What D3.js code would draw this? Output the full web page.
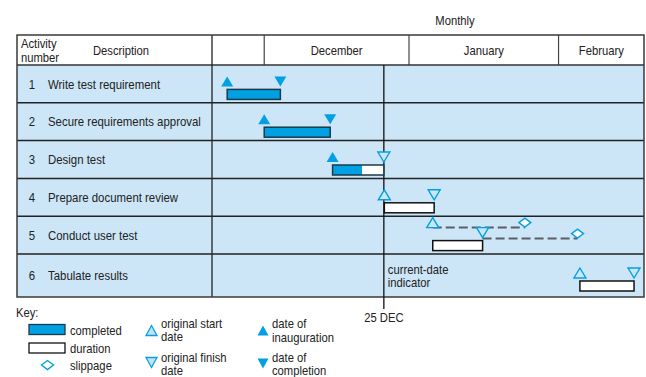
<!DOCTYPE html>
<html>
<head>
<meta charset="utf-8">
<script src="https://cdn.jsdelivr.net/npm/d3@7"></script>
<title>Gantt chart</title>
<style>
body {
	margin: 0;
	background: white;
}
svg text {
	font-family: "Liberation Sans", Arial, sans-serif;
	font-size: 13.4px;
	fill: #222;
}
</style>
</head>
<body>
<div id="chart"></div>
<script>

// -- data (days counted from 1 December)

const months = ["", "December", "January", "February"];
const monthEdges = [-11, 0, 30.5, 62, 80];

const taskIds = [1, 2, 3, 4, 5, 6];
const taskNames = [
	"Write test requirement",
	"Secure requirements approval",
	"Design test",
	"Prepare document review",
	"Conduct user test",
	"Tabulate results",
];
const plannedStart  = [-7.8, 0.0, 14.4, 25.3, 35.5, 66.5];
const plannedFinish = [3.4, 13.9, 25.2, 35.8, 46.0, 77.9];
const inaugurated   = [true, true, true, false, false, false];
const completed     = [true, true, false, false, false, false];
const completedTo   = [3.4, 13.9, 20.6, null, null, null];
const slipStart     = [null, null, null, null, 54.9, null];
const slipFinish    = [null, null, null, null, 66.0, null];

const currentDay = 25.2;
const currentLabel = "25 DEC";

// -- setting

const W = 646, H = 377;
const tLeft = 17, tRight = 644, tTop = 35, headBottom = 65, bodyBottom = 297;
const descRight = 212;

const blue = "#00a0e3";
const rowBg = "#cce6f7";
const openFill = "#c4e2f5";
const lineCol = "#222";

// the original face is a condensed sans, so squeeze the text horizontally
const sx = 0.84;
const tr = (tx, ty) => `translate(${tx},${ty}) scale(${sx},1)`;

const svg = d3.select("#chart")
	.append("svg")
	.attr("width", W)
	.attr("height", H);

const x = d3.scaleLinear()
	.domain([monthEdges[0], monthEdges[monthEdges.length - 1]])
	.range([descRight, tRight]);

// row tops for the first five rows, the last row runs to the bottom
const rowTop = d3.scaleLinear().domain([0, 5]).range([headBottom, 254]);
const rows = taskIds.map((id, i) => {
	let y0 = rowTop(i);
	let y1 = i < 5 ? rowTop(i + 1) : bodyBottom;
	return {
		id: id,
		name: taskNames[i],
		y0: y0,
		y1: y1,
		mid: (y0 + y1) / 2,
		start: plannedStart[i],
		finish: plannedFinish[i],
		inaug: inaugurated[i],
		done: completed[i],
		doneTo: completedTo[i],
		slipS: slipStart[i],
		slipF: slipFinish[i],
	};
});

// one text element, one tspan per line
function label(parent, tx, ty, lines, anchor, lh) {
	if (typeof lines === "string") lines = [lines];
	let t = parent.append("text")
		.attr("transform", tr(tx, ty))
		.attr("text-anchor", anchor || "start");
	lines.forEach((s, i) => {
		t.append("tspan")
			.attr("x", 0)
			.attr("y", i * (lh || 14))
			.attr("dy", "0.35em")
			.text(s);
	});
	return t;
}

// -- table

svg.append("rect")
	.attr("x", tLeft).attr("y", headBottom)
	.attr("width", tRight - tLeft).attr("height", bodyBottom - headBottom)
	.attr("fill", rowBg);

label(svg, 455, 20, "Monthly", "middle");

// header
label(svg, 21, 43, ["Activity", "number"], "start", 14);
label(svg, 121, 50, "Description", "middle");

let monthData = months.map((m, i) => ({name: m, a: monthEdges[i], b: monthEdges[i + 1]}));

svg.selectAll(".month")
	.data(monthData)
	.enter()
	.append("text")
	.attr("class", "month")
	.attr("transform", d => tr((x(d.a) + x(d.b)) / 2, 50))
	.attr("dy", "0.35em")
	.attr("text-anchor", "middle")
	.text(d => d.name);

svg.selectAll(".mdiv")
	.data(monthEdges.slice(1, -1))
	.enter()
	.append("line")
	.attr("x1", d => x(d)).attr("x2", d => x(d))
	.attr("y1", tTop).attr("y2", headBottom)
	.attr("stroke", "#444")
	.attr("stroke-width", 1.2);

// row separators
svg.selectAll(".rowline")
	.data(rows.slice(1))
	.enter()
	.append("line")
	.attr("x1", tLeft).attr("x2", tRight)
	.attr("y1", d => d.y0).attr("y2", d => d.y0)
	.attr("stroke", lineCol)
	.attr("stroke-width", 1.5);

svg.append("line")
	.attr("x1", tLeft).attr("x2", tRight)
	.attr("y1", headBottom).attr("y2", headBottom)
	.attr("stroke", "#333").attr("stroke-width", 1.7);

svg.append("line")
	.attr("x1", descRight).attr("x2", descRight)
	.attr("y1", tTop).attr("y2", bodyBottom)
	.attr("stroke", lineCol).attr("stroke-width", 1.3);

svg.append("rect")
	.attr("x", tLeft).attr("y", tTop)
	.attr("width", tRight - tLeft).attr("height", bodyBottom - tTop)
	.attr("fill", "none")
	.attr("stroke", "#3a3a3a")
	.attr("stroke-width", 1.5);

// row labels
let lab = svg.selectAll(".lab")
	.data(rows)
	.enter()
	.append("g");
lab.append("text")
	.attr("transform", d => tr(32, d.mid))
	.attr("dy", "0.35em")
	.attr("text-anchor", "middle")
	.style("font-size", "13.6px")
	.text(d => d.id);
lab.append("text")
	.attr("transform", d => tr(48, d.mid))
	.attr("dy", "0.35em")
	.style("font-size", "13.6px")
	.text(d => d.name);

// -- marks

const triUp = (cx, cy, w, h) => `M${cx - w / 2},${cy + h / 2}L${cx + w / 2},${cy + h / 2}L${cx},${cy - h / 2}Z`;
const triDown = (cx, cy, w, h) => `M${cx - w / 2},${cy - h / 2}L${cx + w / 2},${cy - h / 2}L${cx},${cy + h / 2}Z`;
const diamond = (cx, cy, w, h) => `M${cx - w / 2},${cy}L${cx},${cy - h / 2}L${cx + w / 2},${cy}L${cx},${cy + h / 2}Z`;

const barH = 10;

// current date line (drawn under the marks)
svg.append("line")
	.attr("x1", x(currentDay)).attr("x2", x(currentDay))
	.attr("y1", headBottom).attr("y2", 309)
	.attr("stroke", "#111")
	.attr("stroke-width", 1.3);

let g = svg.selectAll(".task")
	.data(rows)
	.enter()
	.append("g")
	.attr("class", "task");

// slippage
let slip = g.filter(d => d.slipS != null);
slip.append("line")
	.attr("x1", d => x(d.start)).attr("x2", d => x(d.slipS))
	.attr("y1", d => d.mid - 7.5).attr("y2", d => d.mid - 7.5)
	.attr("stroke", "#5a5f66").attr("stroke-width", 2)
	.attr("stroke-dasharray", "9,4");
slip.append("line")
	.attr("x1", d => x(d.finish)).attr("x2", d => x(d.slipF))
	.attr("y1", d => d.mid + 3.5).attr("y2", d => d.mid + 3.5)
	.attr("stroke", "#5a5f66").attr("stroke-width", 2)
	.attr("stroke-dasharray", "9,4");
slip.append("path")
	.attr("d", d => diamond(x(d.slipS), d.mid - 12.5, 12, 9))
	.attr("fill", "white").attr("stroke", blue).attr("stroke-width", 1.4);
slip.append("path")
	.attr("d", d => diamond(x(d.slipF), d.mid - 1.5, 12, 9))
	.attr("fill", "white").attr("stroke", blue).attr("stroke-width", 1.4);

// duration bars
g.append("rect")
	.attr("x", d => x(d.start))
	.attr("y", d => d.mid + 5.5)
	.attr("width", d => x(d.finish) - x(d.start))
	.attr("height", barH)
	.attr("fill", "white");
g.filter(d => d.doneTo != null)
	.append("rect")
	.attr("x", d => x(d.start))
	.attr("y", d => d.mid + 5.5)
	.attr("width", d => x(d.doneTo) - x(d.start))
	.attr("height", barH)
	.attr("fill", blue);
g.append("rect")
	.attr("x", d => x(d.start))
	.attr("y", d => d.mid + 5.5)
	.attr("width", d => x(d.finish) - x(d.start))
	.attr("height", barH)
	.attr("fill", "none")
	.attr("stroke", d => d.doneTo != null ? "#1b3a4c" : "#111")
	.attr("stroke-width", 1.5);

// start / finish triangles
g.append("path")
	.attr("d", d => triUp(x(d.start), d.mid - (d.slipS != null ? 12.5 : 2.5), 12, 10))
	.attr("fill", d => d.inaug ? blue : rowBg)
	.attr("stroke", blue)
	.attr("stroke-width", d => d.inaug ? 0 : 1.4);
g.append("path")
	.attr("d", d => triDown(x(d.finish), d.mid - 2.5, 12, 10))
	.attr("fill", d => d.done ? blue : rowBg)
	.attr("stroke", blue)
	.attr("stroke-width", d => d.done ? 0 : 1.4);

// current date labels
label(svg, x(currentDay) + 4, 269, ["current-date", "indicator"], "start", 13);
label(svg, x(currentDay), 317, currentLabel, "middle");

// -- key

let key = svg.append("g");

label(key, 16, 312, "Key:");

key.append("rect")
	.attr("x", 29).attr("y", 324.5).attr("width", 36).attr("height", 10)
	.attr("fill", blue).attr("stroke", "#1b3a4c").attr("stroke-width", 1.3);
label(key, 70, 330, "completed");
key.append("rect")
	.attr("x", 29).attr("y", 343).attr("width", 36).attr("height", 10)
	.attr("fill", "white").attr("stroke", "#111").attr("stroke-width", 1.3);
label(key, 70, 348.5, "duration");
key.append("path")
	.attr("d", diamond(47.5, 365, 12, 9))
	.attr("fill", "white").attr("stroke", blue).attr("stroke-width", 1.4);
label(key, 70, 365, "slippage");

key.append("path")
	.attr("d", triUp(151.5, 330.5, 11, 10))
	.attr("fill", openFill).attr("stroke", blue).attr("stroke-width", 1.3);
label(key, 161, 323, ["original start", "date"], "start", 13.5);
key.append("path")
	.attr("d", triDown(151.5, 362.5, 11, 10))
	.attr("fill", openFill).attr("stroke", blue).attr("stroke-width", 1.3);
label(key, 161, 357, ["original finish", "date"], "start", 13.5);

key.append("path")
	.attr("d", triUp(263, 330.5, 11, 10))
	.attr("fill", blue);
label(key, 272, 323.5, ["date of", "inauguration"], "start", 13.5);
key.append("path")
	.attr("d", triDown(263, 363.5, 11, 10))
	.attr("fill", blue);
label(key, 272, 357, ["date of", "completion"], "start", 13.5);

</script>
</body>
</html>
